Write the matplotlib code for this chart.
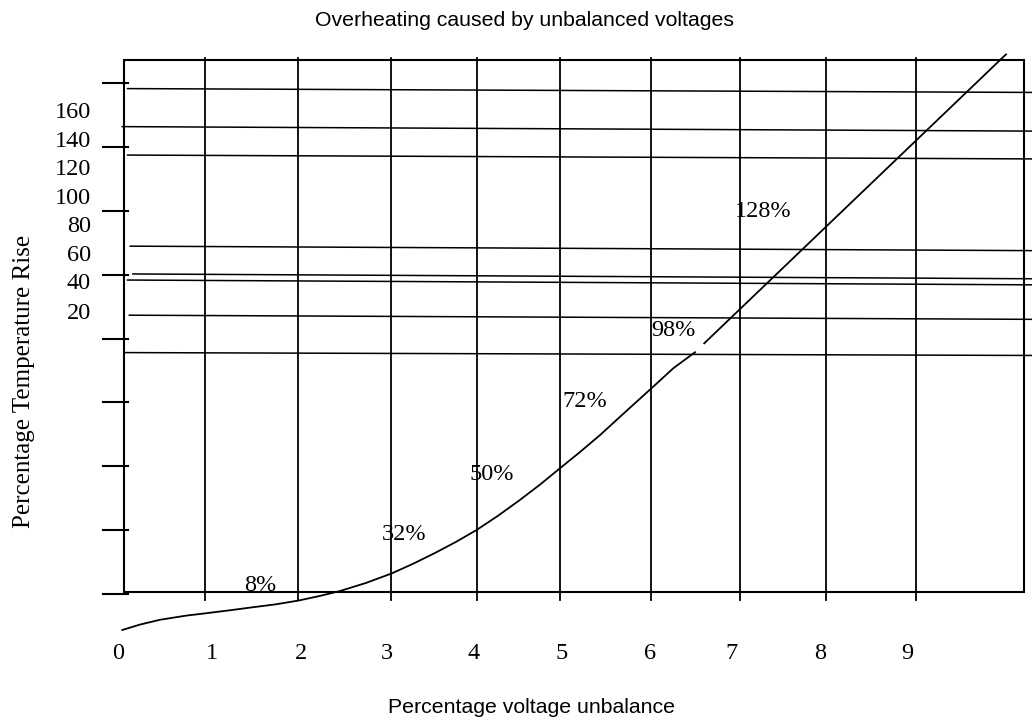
import matplotlib
matplotlib.use("Agg")
import matplotlib.pyplot as plt

# ---------------- data (in chart units) ----------------
# x: percentage voltage unbalance, y: percentage temperature rise (tick scale)
x_grid = [0.908, 1.952, 3.009, 3.967, 4.910, 5.925, 6.932, 7.900, 8.906]
box_x = [0.0, 10.124]
box_y = [0.7, 167.1]
y_ticks = [0, 20, 40, 60, 80, 100, 120, 140, 160]
y_tick_labels = ["160", "140", "120", "100", "80", "60", "40", "20"]
y_tick_label_pos = [150.8, 141.8, 132.9, 123.9, 115.0, 105.9, 97.1, 87.7]
x_tick_labels = ["0", "1", "2", "3", "4", "5", "6", "7", "8", "9"]
x_tick_label_pos = [-0.067, 0.990, 1.991, 2.958, 3.937, 4.927, 5.917, 6.828, 7.829, 8.808]

# slightly sloped horizontal reference lines: start x, y at start, y at end
h_start = [0.04, -0.02, 0.04, 0.07, 0.10, 0.04, 0.06, 0.0]
h_left = [158.2, 146.3, 137.4, 108.9, 100.2, 98.3, 87.3, 75.6]
h_right = [157.0, 144.9, 136.2, 107.5, 98.7, 96.8, 86.0, 74.7]
h_end = 10.21

# curve (two segments, with a small break)
curve1_x = [-0.019, 0.18, 0.405, 0.70, 0.911, 1.20, 1.417, 1.70, 1.961, 2.21, 2.430,
            2.72, 3.011, 3.25, 3.498, 3.73, 3.967, 4.21, 4.454, 4.68, 4.904,
            5.13, 5.355, 5.65, 5.940, 6.179, 6.423]
curve1_y = [-11.2, -9.5, -8.0, -6.7, -6.0, -5.0, -4.2, -3.2, -2.0, -0.5, 1.0,
            3.5, 6.5, 9.5, 12.9, 16.3, 20.1, 24.6, 29.5, 34.3, 39.4,
            44.5, 49.8, 57.3, 64.6, 70.7, 75.7]
curve2_x = [6.527, 9.921]
curve2_y = [78.5, 168.9]

# point labels (left x, baseline y)
pt_labels = ["8%", "32%", "50%", "72%", "98%", "128%"]
pt_x = [1.350, 2.899, 3.892, 4.935, 5.936, 6.873]
pt_y = [0.9, 17.0, 35.7, 58.7, 80.8, 118.0]

# ---------------- drawing ----------------
fig = plt.figure(figsize=(10.32, 7.21), dpi=100)
ax = fig.add_axes([0, 0, 1, 1])
ax.set_xlim(-1.3948, 10.2137)
ax.set_ylim(-39.675, 185.92)
ax.axis("off")

serif = "Liberation Serif"
sans = "Liberation Sans"
k = "black"

# box
ax.plot([box_x[0], box_x[1]], [box_y[1], box_y[1]], color=k, lw=1.5, solid_capstyle="butt")
ax.plot([box_x[0], box_x[1]], [box_y[0], box_y[0]], color=k, lw=1.5, solid_capstyle="butt")
ax.plot([box_x[0], box_x[0]], [box_y[0] - 0.7, box_y[1]], color=k, lw=1.5)
ax.plot([box_x[1], box_x[1]], [box_y[0], box_y[1]], color=k, lw=1.5)

# vertical grid lines (extend slightly past the box)
for xv in x_grid:
    ax.plot([xv, xv], [-1.8, box_y[1] + 0.7], color=k, lw=1.3)

# horizontal lines
for xs, yl, yr in zip(h_start, h_left, h_right):
    ax.plot([xs, h_end], [yl, yr], color=k, lw=1.1)

# left tick marks
for yt in y_ticks:
    ax.plot([-0.236, 0.045], [yt, yt], color=k, lw=1.5)

# tick labels
for lab, yp in zip(y_tick_labels, y_tick_label_pos):
    ax.text(-0.37, yp, lab, ha="right", va="center", fontsize=17.5, family=serif)
for lab, xp in zip(x_tick_labels, x_tick_label_pos):
    ax.text(xp, -18.4, lab, ha="center", va="center", fontsize=17.5, family=serif)

# curve
ax.plot(curve1_x, curve1_y, color=k, lw=1.3, solid_joinstyle="round")
ax.plot(curve2_x, curve2_y, color=k, lw=1.3)

for lab, xp, yp in zip(pt_labels, pt_x, pt_y):
    ax.text(xp, yp, lab, ha="left", va="baseline", fontsize=17.5, family=serif)

# titles
ax.text(4.50, 179.4, "Overheating caused by unbalanced voltages", ha="center", va="center",
        fontsize=15.3, family=sans)
ax.text(4.589, -35.3, "Percentage voltage unbalance", ha="center", va="center",
        fontsize=15.3, family=sans)
ax.text(-1.125, 66.7, "Percentage Temperature Rise", ha="center", va="center",
        rotation=90, fontsize=18, family=serif)

fig.savefig("out.png", dpi=100)
